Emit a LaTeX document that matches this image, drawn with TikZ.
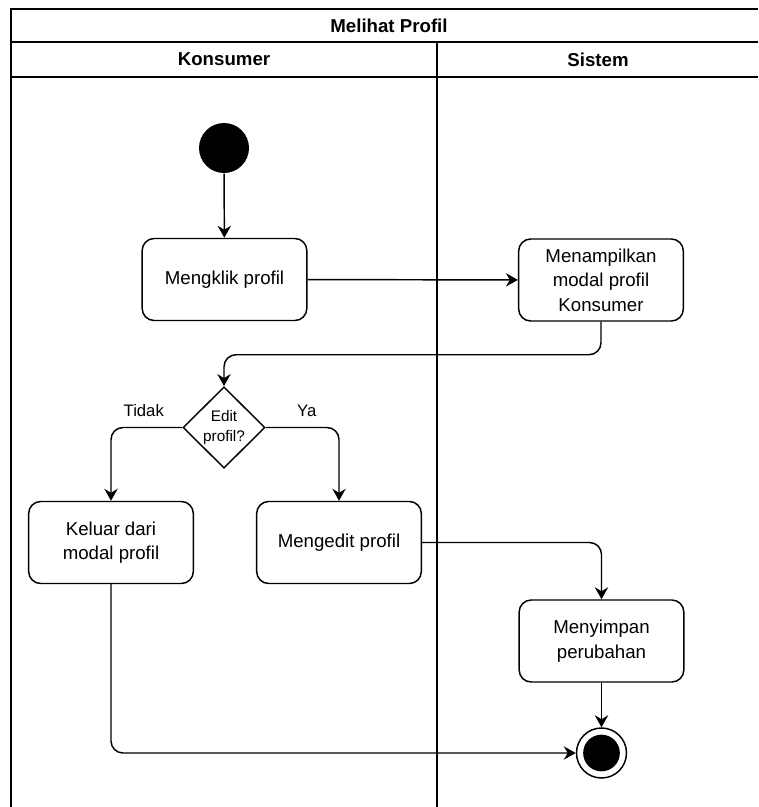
\documentclass[tikz,border=0pt]{standalone}
\usepackage{fontspec}
\setmainfont{Liberation Sans}
\usetikzlibrary{positioning, shapes.geometric, arrows.meta}

\begin{document}
\begin{tikzpicture}[x=0.75pt, y=-0.75pt, line width=1.1pt,
  >={Stealth[length=9pt, width=10pt, inset=3pt]},
  font=\fontsize{14}{18.5}\selectfont,
  lane/.style={line width=1.1pt},
  activity/.style={draw, rectangle, rounded corners=9pt, minimum width=123.5pt,
    minimum height=61.5pt, align=center},
  decision/.style={draw, diamond, minimum width=61.5pt, minimum height=61pt,
    inner sep=0pt, align=center, font=\fontsize{11.5}{15}\selectfont},
  startdot/.style={circle, fill=black, minimum size=37.5pt, inner sep=0pt},
  enddot/.style={circle, draw, minimum size=37.5pt, inner sep=0pt,
    path picture={\fill (path picture bounding box.center) circle (13.75pt);}},
  flow/.style={->, rounded corners=9pt},
  guard/.style={font=\fontsize{12.5}{15}\selectfont}]

  \useasboundingbox (0,0) rectangle (758,807);

  % swimlanes
  \draw[lane] (758,9) -- (11,9) -- (11,807);
  \draw[lane] (11,42) -- (758,42);
  \draw[lane] (11,77) -- (758,77);
  \draw[lane] (437,42) -- (437,807);
  \node[font=\fontsize{14}{18}\selectfont\bfseries] (judul) at (389,25.5) {Melihat Profil};
  \node[font=\fontsize{14}{18}\selectfont\bfseries] (konsumer) at (224,59.5) {Konsumer};
  \node[font=\fontsize{14}{18}\selectfont\bfseries] (sistem) at (598,59.5) {Sistem};

  % actions
  \node[startdot] (start) at (224,148) {};
  \node[activity] (klik) at (224.5,279.5) {Mengklik profil};
  \node[activity] (tampil) at (601,280) {Menampilkan\\modal profil\\Konsumer};
  \node[decision] (cek) at (224,427.5) {Edit\\profil?};
  \node[activity] (keluar) at (111,542.5) {Keluar dari\\modal profil};
  \node[activity] (edit) at (339,542.5) {Mengedit profil};
  \node[activity] (simpan) at (601.5,641) {Menyimpan\\perubahan};
  \node[enddot] (stop) at (601.5,753) {};

  % flows
  \draw[flow] (start) -- (klik);
  \draw[flow] (klik) -- (tampil);
  \draw[flow] (tampil.south) -- ++(0,33) -| (cek.north);
  \draw[flow] (cek.west) -| node[guard, above=4pt, pos=0.27] {Tidak} (keluar.north);
  \draw[flow] (cek.east) -| node[guard, above=4pt, pos=0.28] {Ya} (edit.north);
  \draw[flow] (edit.east) -| (simpan.north);
  \draw[flow] (simpan) -- (stop);
  \draw[flow] (keluar.south) |- (stop.west);

\end{tikzpicture}
\end{document}
